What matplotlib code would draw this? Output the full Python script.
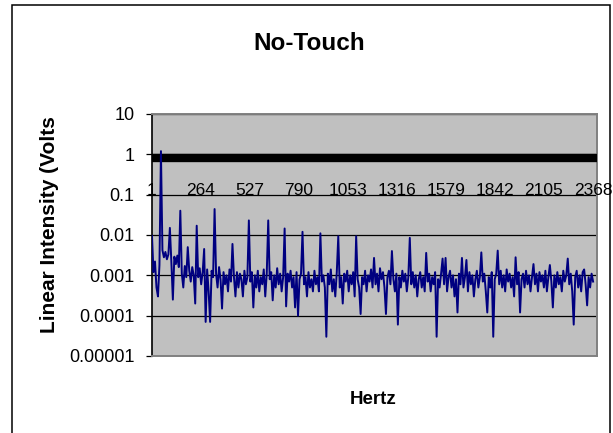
import numpy as np
import matplotlib
matplotlib.use("Agg")
import matplotlib.pyplot as plt
from matplotlib.patches import Rectangle

plt.rcParams["font.family"] = ["Liberation Sans", "DejaVu Sans"]

# spectrum samples, one every SAMPLE_STEP hertz starting at 1 Hz
SAMPLE_STEP = 8
volts = [
    0.0095, 0.0012, 0.0022, 0.0005, 0.0003, 0.0018, 1.2, 0.0042, 0.0028, 0.0038,
    0.0025, 0.0033, 0.015, 0.0021, 0.00025, 0.0029, 0.0019, 0.0031, 0.0016, 0.04,
    0.0011, 0.0005, 0.0017, 0.0009, 0.005, 0.0013, 0.0007, 0.0016, 0.001, 0.0002,
    0.017, 0.0009, 0.0015, 0.0006, 0.0012, 0.0045, 0.00007, 0.0014, 0.0004, 0.00007,
    0.0013, 0.0009, 0.044, 0.0011, 0.0005, 0.0016, 0.0008, 0.00015, 0.0012, 0.0006,
    0.001, 0.0004, 0.0014, 0.0007, 0.006, 0.0009, 0.0003, 0.0012, 0.0005, 0.0011,
    0.0008, 0.0003, 0.0013, 0.0006, 0.0009, 0.023, 0.0007, 0.0012, 0.00016, 0.001,
    0.0005, 0.0013, 0.0004, 0.0009, 0.0006, 0.0014, 0.0003, 0.0011, 0.023, 0.0008,
    0.0012, 0.00024, 0.001, 0.0005, 0.0015, 0.0006, 0.0011, 0.0004, 0.0009, 0.0145,
    0.00017, 0.0011, 0.0007, 0.0013, 0.0005, 0.0009, 0.00016, 0.0012, 0.0001, 0.0008,
    0.0011, 0.012, 0.0006, 0.0009, 0.0003, 0.0012, 0.0005, 0.0008, 0.0004, 0.0013,
    0.0006, 0.0009, 0.0004, 0.011, 0.0007, 0.001, 0.0005, 0.00003, 0.0011, 0.0006,
    0.0014, 0.0004, 0.0008, 0.0003, 0.0012, 0.0093, 0.0005, 0.0009, 0.0002, 0.0011,
    0.0007, 0.0013, 0.0004, 0.001, 0.0006, 0.0012, 0.0003, 0.0093, 0.0008, 0.0005,
    0.00011, 0.0009, 0.0006, 0.0013, 0.0004, 0.001, 0.0007, 0.0014, 0.0005, 0.0027,
    0.0006, 0.0011, 0.0004, 0.0015, 0.0008, 0.0012, 0.0005, 0.00011, 0.0009, 0.0013,
    0.0006, 0.004, 0.0008, 0.0004, 0.0011, 0.00006, 0.0009, 0.0005, 0.0013, 0.0007,
    0.0011, 0.0004, 0.0009, 0.0085, 0.0006, 0.0012, 0.0005, 0.001, 0.0003, 0.0008,
    0.0012, 0.0005, 0.0009, 0.0004, 0.0036, 0.0007, 0.0011, 0.0004, 0.0009, 0.0006,
    0.0012, 0.00003, 0.0008, 0.0005, 0.0011, 0.0026, 0.0006, 0.0027, 0.0004, 0.0009,
    0.0013, 0.0005, 0.001, 0.0003, 0.0008, 0.00012, 0.0011, 0.0006, 0.0027, 0.0005,
    0.0009, 0.0024, 0.0004, 0.0012, 0.0006, 0.001, 0.0003, 0.0008, 0.0013, 0.0005,
    0.0009, 0.0037, 0.0007, 0.0011, 0.0004, 0.00012, 0.0009, 0.0005, 0.0012, 0.00003,
    0.0008, 0.0011, 0.0041, 0.0006, 0.0013, 0.0005, 0.001, 0.0004, 0.0014, 0.0007,
    0.0011, 0.0005, 0.0009, 0.0003, 0.0028, 0.0006, 0.0012, 0.00012, 0.0008, 0.0011,
    0.0005, 0.0013, 0.0006, 0.001, 0.0004, 0.0009, 0.0019, 0.0006, 0.0011, 0.0004,
    0.0012, 0.0007, 0.001, 0.0005, 0.0013, 0.0004, 0.0009, 0.0018, 0.0007, 0.00016,
    0.001, 0.0005, 0.0012, 0.0006, 0.0009, 0.0004, 0.0013, 0.0007, 0.001, 0.0026,
    0.0006, 0.0011, 0.0004, 0.00006, 0.0009, 0.0013, 0.0005, 0.001, 0.0004, 0.0012,
    0.0014, 0.0006, 0.00018, 0.0009, 0.0005, 0.0011, 0.0007,
]
threshold = 0.83  # the heavy black reference line

x_tick_values = [1, 264, 527, 790, 1053, 1316, 1579, 1842, 2105, 2368]
y_tick_values = [1e-5, 1e-4, 1e-3, 1e-2, 1e-1, 1, 10]
y_tick_labels = ["0.00001", "0.0001", "0.001", "0.01", "0.1", "1", "10"]
x_axis_cross = 0.1

hertz = 1 + SAMPLE_STEP * np.arange(len(volts))

W, H = 613, 433
fig = plt.figure(figsize=(W / 100, H / 100), dpi=100)
ax = fig.add_axes([152 / W, 1 - 356 / H, 445 / W, 242 / H])
ax.set_facecolor("#c0c0c0")

ax.set_yscale("log")
ax.set_ylim(1e-5, 10)
ax.set_xlim(1, 2390)

ax.axhline(threshold, color="black", lw=6, zorder=3)
ax.plot(hertz, volts, color="#000080", lw=1.4, zorder=4)

# gridlines at each decade
ax.set_yticks(y_tick_values)
ax.set_yticklabels(y_tick_labels, fontsize=13)
ax.yaxis.set_minor_locator(matplotlib.ticker.NullLocator())
ax.yaxis.grid(True, color="black", lw=0.9, zorder=2)
ax.set_axisbelow(True)
ax.tick_params(axis="y", direction="out", length=4.5, width=0.9, pad=8)
ax.set_xticks([])

for s in ["top", "right", "bottom"]:
    ax.spines[s].set_color("#808080")
    ax.spines[s].set_linewidth(1.4)
ax.spines["left"].set_color("black")
ax.spines["left"].set_linewidth(1.2)

# category labels sit on the axis crossing at 0.1
for v in x_tick_values:
    ax.text(v, x_axis_cross, str(v), ha="center", va="baseline",
            fontsize=12.5, zorder=5, clip_on=False)

fig.text(309 / W, 1 - 50 / H, "No-Touch", ha="center", va="baseline",
         fontsize=17.5, fontweight="bold")
fig.text(373 / W, 1 - 404 / H, "Hertz", ha="center", va="baseline",
         fontsize=13.5, fontweight="bold")
fig.text(50 / W, 1 - 225 / H, "Linear Intensity (Volts", rotation=90,
         ha="center", va="center", fontsize=15, fontweight="bold")

# outer chart frame (bottom edge falls outside the image)
fig.patches.append(Rectangle((12 / W, -0.05), 598 / W, 1.05 - 5 / H,
                             transform=fig.transFigure, fill=False,
                             edgecolor="black", lw=1.1))

fig.savefig("out.png", dpi=100)
